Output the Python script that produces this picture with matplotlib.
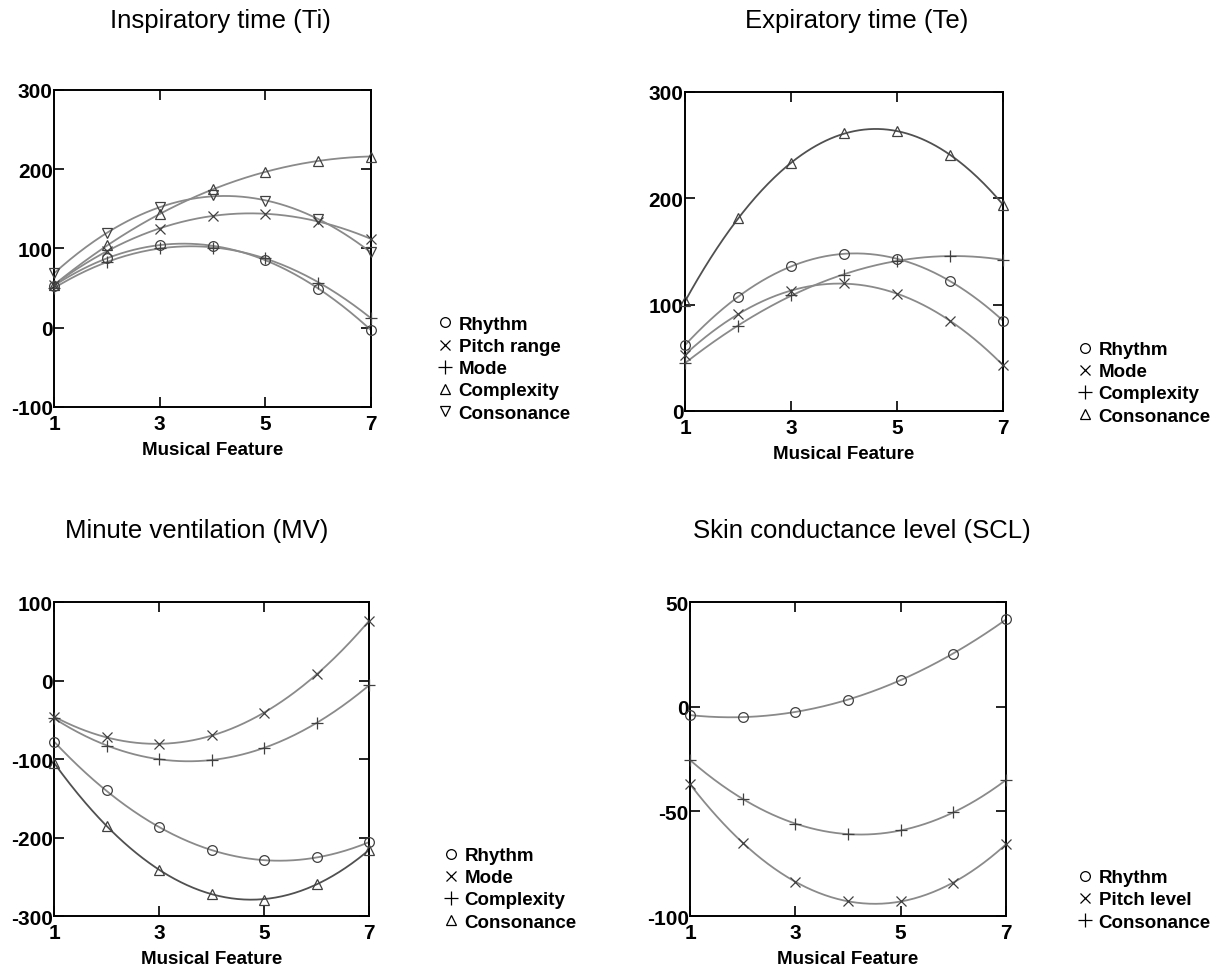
import numpy as np
import matplotlib
matplotlib.use('Agg')
import matplotlib.pyplot as plt
from matplotlib.lines import Line2D

plt.rcParams['font.family'] = ['Liberation Sans', 'DejaVu Sans']
plt.rcParams['axes.unicode_minus'] = False

x = [1, 2, 3, 4, 5, 6, 7]

# Inspiratory time (Ti)
ti_rhythm = [53, 88, 104, 103, 86, 49, -3]
ti_pitch = [54, 97, 125, 141, 144, 134, 112]
ti_mode = [50, 83, 100, 101, 88, 57, 12]
ti_complexity = [54, 104, 143, 175, 196, 211, 216]
ti_consonance = [69, 119, 152, 167, 160, 137, 95]

# Expiratory time (Te)
te_rhythm = [62, 107, 136, 148, 143, 122, 85]
te_mode = [53, 91, 113, 120, 110, 85, 43]
te_complexity = [45, 80, 109, 128, 141, 146, 142]
te_consonance = [103, 181, 233, 261, 263, 241, 194]

# Minute ventilation (MV)
mv_rhythm = [-78, -140, -187, -216, -229, -225, -206]
mv_mode = [-46, -72, -81, -70, -41, 8, 76]
mv_complexity = [-48, -83, -100, -101, -86, -54, -6]
mv_consonance = [-105, -185, -241, -272, -279, -259, -216]

# Skin conductance level (SCL)
scl_rhythm = [-4, -5, -2.5, 3.4, 12.8, 25.4, 41.7]
scl_pitch = [-37, -65, -83.6, -93, -93, -84, -65.7]
scl_consonance = [-25.5, -44, -55.8, -61, -59, -50.5, -35]

panels = [
    ('Inspiratory time (Ti)', [0.0442, 0.5794, 0.2592, 0.3268], (-100, 300), 100,
     [('Rhythm', ti_rhythm, 'o'), ('Pitch range', ti_pitch, 'x'), ('Mode', ti_mode, '+'),
      ('Complexity', ti_complexity, '^'), ('Consonance', ti_consonance, 'v')],
     (220, 21), (437, 411), []),
    ('Expiratory time (Te)', [0.5601, 0.5753, 0.2600, 0.3289], (0, 300), 100,
     [('Rhythm', te_rhythm, 'o'), ('Mode', te_mode, 'x'), ('Complexity', te_complexity, '+'),
      ('Consonance', te_consonance, '^')],
     (857, 21), (1077, 414), ['Consonance']),
    ('Minute ventilation (MV)', [0.0442, 0.0546, 0.2576, 0.3237], (-300, 100), 100,
     [('Rhythm', mv_rhythm, 'o'), ('Mode', mv_mode, 'x'), ('Complexity', mv_complexity, '+'),
      ('Consonance', mv_consonance, '^')],
     (197, 531), (443, 920), ['Consonance']),
    ('Skin conductance level (SCL)', [0.5642, 0.0546, 0.2584, 0.3237], (-100, 50), 50,
     [('Rhythm', scl_rhythm, 'o'), ('Pitch level', scl_pitch, 'x'), ('Consonance', scl_consonance, '+')],
     (862, 531), (1077, 920), []),
]

W, H = 1223, 970
fig = plt.figure(figsize=(W / 100, H / 100), dpi=100)
xs = np.linspace(1, 7, 200)
sizes = {'o': 7, '^': 7, 'v': 7, 'x': 7, '+': 9}
leg_sizes = {'o': 7, '^': 7, 'v': 7, 'x': 7, '+': 10}

for title, rect, ylim, ystep, series, tpos, lpos, dark in panels:
    ax = fig.add_axes(rect)
    handles = []
    for name, vals, m in series:
        lc = '#505050' if name in dark else '#8a8a8a'
        coef = np.polyfit(x, vals, 3)
        ax.plot(xs, np.polyval(coef, xs), color=lc, lw=1.3, zorder=2)
        ax.plot(x, vals, linestyle='none', marker=m, ms=sizes[m], mfc='none',
                mec='#404040', mew=0.9, zorder=3, clip_on=False)
        handles.append(Line2D([], [], linestyle='none', marker=m, ms=leg_sizes[m],
                              mfc='none', mec='black', mew=0.9, label=name))
    ax.set_xlim(1, 7)
    ax.set_ylim(*ylim)
    ax.set_xticks([1, 3, 5, 7])
    ax.set_yticks(np.arange(ylim[0], ylim[1] + 1, ystep))
    ax.tick_params(direction='in', length=7, width=1.2, top=True, right=True,
                   labelsize=15, pad=1)
    ax.tick_params(axis='x', pad=5)
    for lab in ax.get_xticklabels() + ax.get_yticklabels():
        lab.set_fontweight('bold')
    for sp in ax.spines.values():
        sp.set_linewidth(1.4)
    ax.set_xlabel('Musical Feature', fontsize=13.5, fontweight='bold', labelpad=6)
    fig.text(tpos[0] / W, 1 - tpos[1] / H, title, ha='center', va='center', fontsize=18.5)
    ax.legend(handles=handles, loc='lower left', frameon=False,
              bbox_to_anchor=(lpos[0] / W, 1 - lpos[1] / H - 0.012),
              bbox_transform=fig.transFigure, prop={'size': 13.5, 'weight': 'bold'},
              handlelength=0.8, handletextpad=0.35, labelspacing=0.27,
              borderpad=0, borderaxespad=0)

fig.savefig('out.png', dpi=100)
